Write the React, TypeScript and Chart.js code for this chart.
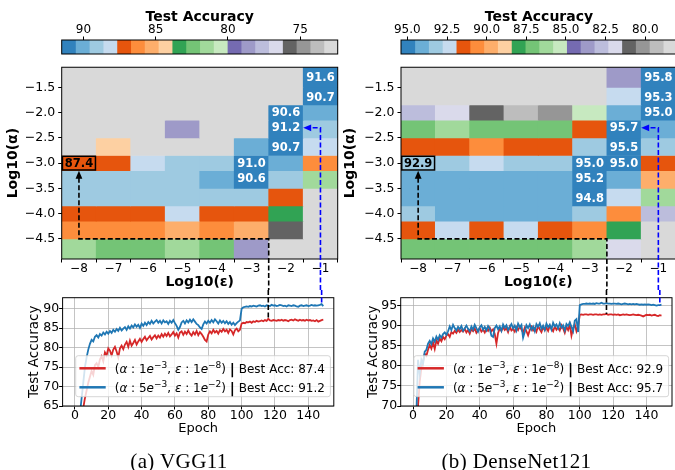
import React, { useEffect, useRef } from 'react';
import { Chart, registerables } from 'chart.js';

Chart.register(...registerables);

const FONT = "'DejaVu Sans', sans-serif";
const MINUS = '\u2212';
Chart.defaults.font.family = FONT;
Chart.defaults.font.size = 12;
Chart.defaults.color = '#000';

// tab20c colormap (20 discrete colours, high accuracy first)
const TAB20C = [
  '#3182bd', '#6baed6', '#9ecae1', '#c6dbef',
  '#e6550d', '#fd8d3c', '#fdae6b', '#fdd0a2',
  '#31a354', '#74c476', '#a1d99b', '#c7e9c0',
  '#756bb1', '#9e9ac8', '#bcbddc', '#dadaeb',
  '#636363', '#969696', '#bdbdbd', '#d9d9d9',
];

// ---- heatmap axes ----
const ALPHAS = [5e-2, 2e-2, 1e-2, 5e-3, 2e-3, 1e-3, 5e-4, 2e-4, 1e-4, 5e-5, 2e-5];
const EPS_EXPS = [-8, -7, -6, -5, -4, -3, -2, -1];
const ALPHA_TICKS = [-1.5, -2.0, -2.5, -3.0, -3.5, -4.0, -4.5];

// ---- heatmap values (rows: alpha top->bottom, cols: log10 eps -8..-1); 10.0 = diverged ----
const VGG_GRID = [
  [10.0, 10.0, 10.0, 10.0, 10.0, 10.0, 10.0, 91.6],
  [10.0, 10.0, 10.0, 10.0, 10.0, 10.0, 10.0, 90.7],
  [10.0, 10.0, 10.0, 10.0, 10.0, 10.0, 90.6, 90.1],
  [10.0, 10.0, 10.0, 78.6, 10.0, 10.0, 91.2, 89.1],
  [10.0, 84.3, 10.0, 10.0, 10.0, 90.1, 90.7, 88.2],
  [87.4, 87.2, 88.2, 89.1, 89.1, 91.0, 90.1, 86.2],
  [89.1, 89.1, 89.1, 89.1, 90.1, 90.6, 89.1, 81.5],
  [89.1, 89.1, 89.1, 89.1, 89.1, 89.1, 87.2, 10.0],
  [87.2, 87.2, 87.2, 88.2, 87.2, 87.2, 83.4, 10.0],
  [86.2, 86.2, 86.2, 85.3, 86.2, 85.3, 75.8, 10.0],
  [81.5, 82.4, 82.4, 81.5, 82.4, 78.6, 10.0, 10.0],
];
const DENSE_GRID = [
  [10.0, 10.0, 10.0, 10.0, 10.0, 10.0, 83.7, 95.8],
  [10.0, 10.0, 10.0, 10.0, 10.0, 10.0, 92.4, 95.3],
  [82.8, 81.9, 81.1, 79.3, 80.2, 85.4, 94.1, 95.0],
  [87.1, 86.3, 87.1, 87.1, 87.1, 91.5, 95.7, 94.1],
  [91.5, 91.5, 90.6, 91.5, 91.5, 93.2, 95.5, 93.2],
  [92.9, 93.2, 92.4, 93.2, 93.2, 95.0, 95.0, 91.5],
  [94.1, 94.1, 94.1, 94.1, 94.1, 95.2, 94.1, 89.7],
  [94.1, 94.1, 94.1, 94.1, 94.1, 94.8, 92.4, 86.3],
  [93.2, 94.1, 94.1, 94.1, 94.1, 93.2, 90.6, 82.8],
  [91.5, 92.4, 91.5, 92.4, 91.5, 90.6, 88.0, 10.0],
  [87.1, 87.1, 87.1, 87.1, 87.1, 86.3, 81.9, 10.0],
];

// ---- colour bars ----
const VGG_CBAR_RANGE = [72.4, 91.5];
const VGG_CBAR_TICKS = [90, 85, 80, 75];
const DENSE_CBAR_RANGE = [78.0, 95.4];
const DENSE_CBAR_TICKS = [95, 92.5, 90, 87.5, 85, 82.5, 80];

// ---- runs: [mantissa, exponent] ----
const RUN_ALPHA = [[1, -3], [5, -3]];
const RUN_EPS = [[1, -8], [1, -2]];
const MARK_EPOCHS = [116, 148];
const RUN_COLORS = ['#d62728', '#1f77b4'];

// ---- training curves ----
const EPOCH_TICKS = [0, 20, 40, 60, 80, 100, 120, 140];
const VGG_ACC_TICKS = [65, 70, 75, 80, 85, 90];
const DENSE_ACC_TICKS = [70, 75, 80, 85, 90, 95];

const VGG_RED = [
  30.0, 45.0, 52.0, 58.0, 62.0, 64.5, 67.0, 69.0, 71.0, 72.5,
  74.0, 73.0, 75.5, 76.0, 75.0, 77.0, 77.8, 76.5, 78.8, 78.0,
  79.8, 79.2, 78.0, 79.5, 80.2, 79.0, 77.5, 79.8, 80.5, 79.6,
  80.8, 81.5, 80.2, 81.8, 80.5, 81.2, 82.0, 80.8, 81.6, 82.3,
  81.5, 82.2, 82.8, 81.9, 82.5, 83.0, 82.1, 82.7, 83.2, 82.4,
  83.1, 82.6, 83.5, 82.8, 83.6, 83.0, 83.8, 82.9, 83.4, 84.0,
  83.1, 83.7, 82.6, 83.9, 84.2, 83.3, 84.1, 83.5, 84.4, 83.6,
  83.1, 84.0, 83.4, 84.3, 83.2, 84.0, 83.5, 82.8, 82.0, 81.6,
  83.4, 84.2, 83.7, 84.6, 83.9, 84.3, 83.6, 84.5, 84.1, 84.8,
  84.2, 84.6, 83.8, 84.7, 84.3, 83.4, 84.5, 84.9, 84.2, 84.6,
  86.2, 86.4, 86.3, 86.6, 86.5, 86.7, 86.4, 86.8, 86.6, 86.9,
  86.7, 86.8, 87.0, 86.8, 87.1, 86.9, 87.4, 87.0, 86.9, 87.1,
  87.0, 86.9, 87.1, 87.0, 87.2, 86.9, 87.1, 87.0, 86.8, 87.1,
  87.2, 87.0, 87.3, 87.1, 86.9, 87.2, 87.0, 87.1, 86.9, 87.2,
  87.0, 87.1, 86.9, 87.0, 86.8, 87.1, 86.7, 86.9, 87.1, 87.2,
];
const VGG_BLUE = [
  35.0, 50.0, 58.0, 63.0, 67.0, 71.0, 75.0, 77.5, 79.5, 81.0,
  82.0, 81.6, 82.8, 83.2, 82.6, 83.5, 83.1, 83.9, 83.4, 84.1,
  83.6, 84.3, 83.8, 84.6, 84.1, 84.8, 84.3, 85.1, 84.4, 84.9,
  85.3, 84.6, 85.5, 84.9, 85.7, 85.2, 86.0, 85.4, 85.9, 85.1,
  86.2, 85.6, 86.4, 85.8, 86.6, 86.1, 86.9, 86.2, 86.7, 87.1,
  86.4, 86.9, 86.2, 87.0, 86.5, 86.8, 86.1, 86.9, 86.4, 87.1,
  86.3, 85.6, 84.6, 85.3, 86.5, 86.9, 86.2, 87.0, 86.5, 87.2,
  86.6, 87.3, 86.7, 86.1, 85.8, 85.2, 84.8, 86.0, 86.7, 86.2,
  86.9, 86.4, 87.1, 86.5, 87.3, 86.8, 86.2, 87.0, 86.4, 86.9,
  86.3, 86.8, 86.1, 86.6, 85.9, 86.4, 85.8, 86.3, 86.7, 87.0,
  90.0, 90.4, 90.5, 90.6, 90.5, 90.7, 90.6, 90.8, 90.7, 90.6,
  90.8, 90.9, 90.7, 90.8, 90.6, 90.9, 90.8, 90.7, 91.0, 90.8,
  90.9, 90.7, 90.8, 91.0, 90.9, 90.7, 90.8, 90.6, 90.9, 90.8,
  90.7, 90.9, 90.8, 90.6, 90.5, 90.8, 90.9, 90.7, 90.8, 90.9,
  90.7, 90.8, 91.0, 90.8, 90.9, 90.8, 90.9, 91.0, 91.2, 90.7,
];
const DENSE_RED = [
  20.0, 40.0, 62.0, 70.0, 76.0, 79.5, 81.0, 83.0, 82.5, 84.0,
  85.2, 84.3, 85.8, 84.2, 86.3, 85.5, 86.8, 86.1, 87.2, 86.6,
  87.5, 87.9, 87.2, 88.4, 88.0, 88.7, 88.2, 89.0, 88.4, 88.9,
  88.5, 89.2, 88.3, 88.9, 88.0, 89.1, 88.6, 89.3, 88.2, 88.8,
  89.4, 88.5, 89.0, 88.3, 89.2, 88.7, 89.5, 88.6, 89.1, 87.9,
  85.5, 88.2, 89.3, 88.7, 89.6, 88.9, 89.4, 88.4, 89.7, 88.8,
  89.2, 88.5, 89.6, 88.9, 89.8, 89.0, 88.3, 89.5, 88.6, 87.6,
  88.9, 89.7, 88.8, 89.4, 88.5, 89.9, 89.1, 88.4, 89.6, 88.9,
  89.5, 88.7, 90.0, 89.2, 88.6, 89.8, 89.0, 89.6, 88.8, 90.1,
  89.3, 88.2, 89.7, 88.9, 90.2, 87.5, 89.4, 90.3, 88.6, 89.9,
  92.7, 92.8, 92.7, 92.8, 92.8, 92.7, 92.8, 92.8, 92.7, 92.8,
  92.8, 92.7, 92.8, 92.7, 92.8, 92.8, 92.9, 92.7, 92.8, 92.8,
  92.7, 92.8, 92.7, 92.8, 92.6, 92.7, 92.8, 92.7, 92.8, 92.7,
  92.6, 92.7, 92.8, 92.7, 92.6, 92.7, 92.6, 92.5, 92.3, 92.5,
  92.7, 92.6, 92.7, 92.5, 92.6, 92.7, 92.5, 92.4, 92.6, 92.5,
];
const DENSE_BLUE = [
  25.0, 50.0, 68.0, 81.5, 78.0, 81.5, 80.5, 83.5, 84.0, 85.5,
  86.2, 85.4, 86.8, 86.0, 87.3, 86.5, 87.6, 87.0, 87.9, 88.3,
  87.7, 88.6, 89.8, 88.9, 90.2, 89.4, 88.8, 89.7, 89.1, 89.9,
  88.7, 89.3, 90.0, 89.2, 88.6, 89.8, 89.0, 90.2, 89.4, 88.5,
  89.6, 90.1, 89.0, 89.7, 88.8, 89.9, 89.2, 87.5, 87.2, 89.4,
  90.0, 89.1, 89.8, 88.7, 90.3, 89.5, 90.1, 88.9, 89.7, 90.4,
  89.3, 90.0, 88.8, 90.5, 89.6, 90.2, 87.0, 88.4, 90.1, 89.4,
  90.3, 89.0, 89.8, 88.6, 90.4, 89.7, 90.6, 89.2, 90.0, 88.9,
  90.5, 89.6, 90.2, 89.0, 90.7, 89.8, 90.3, 89.3, 90.6, 89.5,
  90.1, 88.8, 90.4, 89.9, 90.8, 89.7, 88.6, 91.2, 91.6, 88.4,
  95.1, 95.3, 95.4, 95.4, 95.5, 95.4, 95.5, 95.4, 95.5, 95.4,
  95.6, 95.5, 95.5, 95.7, 95.5, 95.5, 95.6, 95.5, 95.5, 95.4,
  95.5, 95.5, 95.4, 95.5, 95.4, 95.3, 95.4, 95.5, 95.4, 95.3,
  95.4, 95.3, 95.4, 95.3, 95.4, 95.3, 95.2, 95.3, 95.2, 95.3,
  95.2, 95.3, 95.2, 95.1, 95.2, 95.1, 95.0, 95.1, 95.1, 95.2,
];

// ---------------- helpers ----------------
const fmt = (v: number, dec: number) => v.toFixed(dec).replace('-', MINUS);
const fixedTicks = (values: number[]) => (scale: any) => {
  scale.ticks = values.map((v) => ({ value: v }));
};
const binIndex = (v: number, range: number[]) => {
  const [vmin, vmax] = range;
  const w = (vmax - vmin) / TAB20C.length;
  return Math.max(0, Math.min(TAB20C.length - 1, Math.floor((vmax - v) / w)));
};
const ROW_CENTERS = ALPHAS.map((a) => Math.log10(a));
const ROW_EDGES = ROW_CENTERS.map((c, i, arr) => {
  const up = i === 0 ? c + (c - arr[1]) / 2 : (arr[i - 1] + c) / 2;
  const lo = i === arr.length - 1 ? c - (arr[i - 1] - c) / 2 : (c + arr[i + 1]) / 2;
  return [lo, up];
});

const framePlugin = {
  id: 'frame',
  afterDatasetsDraw(chart: any) {
    const { ctx, chartArea: a } = chart;
    ctx.save();
    ctx.strokeStyle = '#000';
    ctx.lineWidth = 1;
    ctx.setLineDash([]);
    ctx.strokeRect(a.left, a.top, a.right - a.left, a.bottom - a.top);
    ctx.restore();
  },
};

function arrowHead(ctx: CanvasRenderingContext2D, tx: number, ty: number, dx: number, dy: number, color: string) {
  const L = 8, W = 3.4;
  const bx = tx - dx * L, by = ty - dy * L;
  const px = -dy, py = dx;
  ctx.save();
  ctx.setLineDash([]);
  ctx.beginPath();
  ctx.moveTo(tx, ty);
  ctx.lineTo(bx + px * W, by + py * W);
  ctx.lineTo(bx - px * W, by - py * W);
  ctx.closePath();
  ctx.fillStyle = color;
  ctx.fill();
  ctx.restore();
}

const axisGrid = { drawOnChartArea: false, drawTicks: true, tickLength: 3.5, color: '#000', lineWidth: 1 };

function makeColorbar(canvas: HTMLCanvasElement, range: number[], ticks: number[], dec: number, padL: number, padR: number) {
  const [vmin, vmax] = range;
  const w = (vmax - vmin) / TAB20C.length;
  const datasets = TAB20C.map((col, i) => ({
    data: [[vmax - (i + 1) * w, vmax - i * w]],
    backgroundColor: col,
    borderWidth: 0,
    grouped: false,
    barPercentage: 1,
    categoryPercentage: 1,
  }));
  return new Chart(canvas, {
    type: 'bar',
    data: { labels: ['cbar'], datasets } as any,
    options: {
      indexAxis: 'y',
      responsive: false,
      animation: false,
      events: [],
      layout: { padding: { left: padL, right: padR, top: 0, bottom: 2 } },
      plugins: { legend: { display: false }, tooltip: { enabled: false } },
      scales: {
        x: {
          type: 'linear', position: 'top', reverse: true, min: vmin, max: vmax,
          afterBuildTicks: fixedTicks(ticks),
          afterFit: (s: any) => { s.height = 40; },
          grid: axisGrid,
          border: { display: false },
          ticks: { font: { size: 12, lineHeight: 1 }, color: '#000', padding: 0.5, maxRotation: 0, autoSkip: false, callback: (v: any) => fmt(Number(v), dec) },
          title: { display: true, text: 'Test Accuracy', color: '#000', font: { size: 14, weight: 'bold', lineHeight: 1 }, padding: { top: 10.5, bottom: 0 } },
        },
        y: { type: 'category', display: false },
      },
    } as any,
    plugins: [framePlugin],
  });
}

function makeHeatmap(canvas: HTMLCanvasElement, grid: number[][], range: number[], yAxisW: number, padR: number, titlePad: number) {
  const datasets = grid.map((row, r) => ({
    data: row.map((v, c) => ({ x: EPS_EXPS[c], y: ROW_EDGES[r] })),
    backgroundColor: row.map((v) => TAB20C[binIndex(v, range)]),
    borderWidth: 0,
    grouped: false,
    barPercentage: 1,
    categoryPercentage: 1,
  }));
  const baseR = ALPHAS.indexOf(RUN_ALPHA[0][0] * Math.pow(10, RUN_ALPHA[0][1]));
  const baseC = EPS_EXPS.indexOf(RUN_EPS[0][1]);
  const bestAlpha = RUN_ALPHA[1][0] * Math.pow(10, RUN_ALPHA[1][1]);
  const bestR = ALPHAS.findIndex((a) => Math.abs(a - bestAlpha) < 1e-9);
  const bestC = EPS_EXPS.indexOf(RUN_EPS[1][1]);
  const ROUTE_Y = -4.5, ROUTE_X = -2.5, BLUE_X = -1;

  const heatPlugin = {
    id: 'heatDecor',
    afterDatasetsDraw(chart: any) {
      const { ctx } = chart;
      const xs = chart.scales.x, ys = chart.scales.y;
      ctx.save();
      ctx.textAlign = 'center';
      ctx.textBaseline = 'middle';
      ctx.font = `bold 11.5px ${FONT}`;
      grid.forEach((row, r) => row.forEach((v, c) => {
        const isBase = r === baseR && c === baseC;
        if (!isBase && binIndex(v, range) !== 0) return;
        const x = xs.getPixelForValue(EPS_EXPS[c]);
        const y = ys.getPixelForValue(ROW_CENTERS[r]);
        if (isBase) {
          const x0 = xs.getPixelForValue(EPS_EXPS[c] - 0.5), x1 = xs.getPixelForValue(EPS_EXPS[c] + 0.5);
          const y0 = ys.getPixelForValue(ROW_EDGES[r][1]), y1 = ys.getPixelForValue(ROW_EDGES[r][0]);
          ctx.lineWidth = 1.5;
          ctx.strokeStyle = '#000';
          ctx.strokeRect(x0 + 0.75, y0 + 0.75, x1 - x0 - 1.5, y1 - y0 - 1.5);
          ctx.fillStyle = '#000';
        } else {
          ctx.fillStyle = '#fff';
        }
        ctx.fillText(v.toFixed(1), x, y + 0.5);
      }));
      // frame
      const a = chart.chartArea;
      ctx.lineWidth = 1;
      ctx.strokeStyle = '#000';
      ctx.strokeRect(a.left, a.top, a.right - a.left, a.bottom - a.top);
      // dashed routes
      ctx.setLineDash([5, 2.5]);
      ctx.lineWidth = 1.6;
      ctx.strokeStyle = '#000';
      const bx = xs.getPixelForValue(EPS_EXPS[baseC]);
      const by = ys.getPixelForValue(ROUTE_Y);
      const tipY = ys.getPixelForValue(ROW_EDGES[baseR][0]);
      const rx = xs.getPixelForValue(ROUTE_X);
      ctx.beginPath();
      ctx.moveTo(bx, tipY + 7);
      ctx.lineTo(bx, by);
      ctx.lineTo(rx, by);
      ctx.lineTo(rx, chart.height);
      ctx.stroke();
      arrowHead(ctx, bx, tipY, 0, -1, '#000');
      ctx.strokeStyle = 'blue';
      const lx = xs.getPixelForValue(BLUE_X);
      const ly = ys.getPixelForValue(ROW_CENTERS[bestR]);
      const tipX = xs.getPixelForValue(EPS_EXPS[bestC] + 0.5);
      ctx.beginPath();
      ctx.moveTo(lx, chart.height);
      ctx.lineTo(lx, ly);
      ctx.lineTo(tipX + 7, ly);
      ctx.stroke();
      arrowHead(ctx, tipX, ly, -1, 0, 'blue');
      ctx.restore();
    },
  };

  return new Chart(canvas, {
    type: 'bar',
    data: { datasets } as any,
    options: {
      responsive: false,
      animation: false,
      events: [],
      layout: { padding: { left: 0, right: padR, top: 3.7, bottom: 0 } },
      plugins: { legend: { display: false }, tooltip: { enabled: false } },
      scales: {
        x: {
          type: 'linear', min: EPS_EXPS[0] - 0.5, max: EPS_EXPS[EPS_EXPS.length - 1] + 0.5, offset: false,
          afterBuildTicks: fixedTicks(EPS_EXPS),
          afterFit: (s: any) => { s.height = 31; },
          grid: axisGrid,
          border: { display: false },
          ticks: { font: { size: 12, lineHeight: 1 }, color: '#000', padding: 0, maxRotation: 0, autoSkip: false, callback: (v: any) => fmt(Number(v), 0) },
          title: { display: true, text: 'Log10(ε)', color: '#000', font: { size: 14, weight: 'bold', lineHeight: 1 }, padding: { top: 0, bottom: 1 } },
        },
        y: {
          type: 'linear', min: ROW_EDGES[ROW_EDGES.length - 1][0], max: ROW_EDGES[0][1],
          afterBuildTicks: fixedTicks(ALPHA_TICKS),
          afterFit: (s: any) => { s.width = yAxisW; },
          grid: axisGrid,
          border: { display: false },
          ticks: { font: { size: 12.5, lineHeight: 1 }, color: '#000', padding: 3, autoSkip: false, callback: (v: any) => fmt(Number(v), 1) },
          title: { display: true, text: 'Log10(α)', color: '#000', font: { size: 14, weight: 'bold', lineHeight: 1 }, padding: { top: titlePad, bottom: 0 } },
        },
      },
    } as any,
    plugins: [heatPlugin],
  });
}

type Seg = { t: string; k: string };
function legendSegs(run: number, best: number): Seg[] {
  const [am, ae] = RUN_ALPHA[run];
  const [em, ee] = RUN_EPS[run];
  return [
    { t: '(', k: 'n' }, { t: 'α', k: 'i' }, { t: ' : ', k: 'n' }, { t: String(am), k: 'n' }, { t: 'e', k: 'i' }, { t: fmt(ae, 0), k: 's' },
    { t: ', ', k: 'n' }, { t: 'ε', k: 'i' }, { t: ' : ', k: 'n' }, { t: String(em), k: 'n' }, { t: 'e', k: 'i' }, { t: fmt(ee, 0), k: 's' },
    { t: ') ', k: 'n' }, { t: '|', k: 'b' }, { t: ' Best Acc: ' + best.toFixed(1), k: 'n' },
  ];
}
const segFont = (k: string) =>
  k === 'i' ? `italic 12px ${FONT}` : k === 'b' ? `bold 14px ${FONT}` : k === 's' ? `9px ${FONT}` : `12px ${FONT}`;

function makeLine(canvas: HTMLCanvasElement, series: number[][], yRange: number[], yTicks: number[], yAxisW: number, padR: number, titlePad: number) {
  const best = series.map((s) => Math.max(...s));
  const linePlugin = {
    id: 'lineDecor',
    afterDatasetsDraw(chart: any) {
      const { ctx } = chart;
      const a = chart.chartArea;
      const xs = chart.scales.x, ys = chart.scales.y;
      ctx.save();
      ctx.strokeStyle = '#000';
      ctx.lineWidth = 1;
      ctx.strokeRect(a.left, a.top, a.right - a.left, a.bottom - a.top);
      ctx.setLineDash([5, 2.5]);
      ctx.lineWidth = 1.6;
      MARK_EPOCHS.forEach((ep, i) => {
        const x = xs.getPixelForValue(ep);
        const y = ys.getPixelForValue(series[i][ep]);
        ctx.strokeStyle = i === 0 ? '#000' : 'blue';
        ctx.beginPath();
        ctx.moveTo(x, 0);
        ctx.lineTo(x, y);
        ctx.stroke();
      });
      ctx.restore();
    },
    afterDraw(chart: any) {
      const { ctx } = chart;
      const a = chart.chartArea;
      ctx.save();
      const segsList = series.map((s, i) => legendSegs(i, best[i]));
      const widths = segsList.map((segs) => segs.reduce((sum, g) => { ctx.font = segFont(g.k); return sum + ctx.measureText(g.t).width; }, 0));
      const textW = Math.max(...widths);
      const boxW = 39 + textW + 5.5, boxH = 41;
      const right = a.right - 3.4, bottom = a.bottom - 9.3;
      const left = right - boxW, top = bottom - boxH;
      ctx.beginPath();
      ctx.roundRect(left, top, boxW, boxH, 2.5);
      ctx.fillStyle = 'rgba(255,255,255,0.8)';
      ctx.fill();
      ctx.strokeStyle = 'rgba(204,204,204,0.8)';
      ctx.lineWidth = 1;
      ctx.stroke();
      segsList.forEach((segs, i) => {
        const cy = top + 12.6 + i * 19;
        ctx.strokeStyle = RUN_COLORS[i];
        ctx.lineWidth = 2.5;
        ctx.beginPath();
        ctx.moveTo(left + 3.7, cy);
        ctx.lineTo(left + 30, cy);
        ctx.stroke();
        let x = left + 39;
        const base = cy + 4.4;
        ctx.fillStyle = '#000';
        ctx.textBaseline = 'alphabetic';
        ctx.textAlign = 'left';
        segs.forEach((g) => {
          ctx.font = segFont(g.k);
          ctx.fillText(g.t, x, g.k === 's' ? base - 5 : g.k === 'b' ? base + 1 : base);
          x += ctx.measureText(g.t).width;
        });
      });
      ctx.restore();
    },
  };
  const labels = ['red', 'blue'];
  return new Chart(canvas, {
    type: 'line',
    data: {
      datasets: series.map((s, i) => ({
        label: labels[i],
        data: s.map((v, ep) => ({ x: ep, y: v })),
        borderColor: RUN_COLORS[i],
        borderWidth: 1.8,
        pointRadius: 0,
        fill: false,
        tension: 0,
        order: 2 - i,
      })),
    },
    options: {
      responsive: false,
      animation: false,
      events: [],
      layout: { padding: { left: 0, right: padR, top: 7.7, bottom: 34 } },
      plugins: { legend: { display: false }, tooltip: { enabled: false } },
      scales: {
        x: {
          type: 'linear', min: -7.4, max: 155.3,
          afterBuildTicks: fixedTicks(EPOCH_TICKS),
          afterFit: (s: any) => { s.height = 30; },
          grid: { drawOnChartArea: true, drawTicks: true, tickLength: 3.5, color: 'rgba(176,176,176,0.75)', tickColor: '#000', lineWidth: 1 },
          border: { display: false },
          ticks: { font: { size: 12.5, lineHeight: 1 }, color: '#000', padding: -0.5, maxRotation: 0, autoSkip: false },
          title: { display: true, text: 'Epoch', color: '#000', font: { size: 13, lineHeight: 1 }, padding: { top: 0, bottom: 0.5 } },
        },
        y: {
          type: 'linear', min: yRange[0], max: yRange[1],
          afterBuildTicks: fixedTicks(yTicks),
          afterFit: (s: any) => { s.width = yAxisW; },
          grid: { drawOnChartArea: true, drawTicks: true, tickLength: 3.5, color: 'rgba(176,176,176,0.75)', tickColor: '#000', lineWidth: 1 },
          border: { display: false },
          ticks: { font: { size: 12.5, lineHeight: 1 }, color: '#000', padding: 0, autoSkip: false },
          title: { display: true, text: 'Test Accuracy', color: '#000', font: { size: 13.5, lineHeight: 1 }, padding: { top: titlePad, bottom: 0 } },
        },
      },
    } as any,
    plugins: [linePlugin],
  });
}

const cv = (left: number, top: number, width: number, height: number): React.CSSProperties => ({
  position: 'absolute', left, top, width, height,
});

export default function App() {
  const c1 = useRef<HTMLCanvasElement>(null);
  const c2 = useRef<HTMLCanvasElement>(null);
  const c3 = useRef<HTMLCanvasElement>(null);
  const c4 = useRef<HTMLCanvasElement>(null);
  const c5 = useRef<HTMLCanvasElement>(null);
  const c6 = useRef<HTMLCanvasElement>(null);

  useEffect(() => {
    const charts = [
      makeColorbar(c1.current!, VGG_CBAR_RANGE, VGG_CBAR_TICKS, 0, 61.7, 7.3),
      makeHeatmap(c2.current!, VGG_GRID, VGG_CBAR_RANGE, 61.7, 7.3, 6),
      makeLine(c3.current!, [VGG_RED, VGG_BLUE], [65, 92.85], VGG_ACC_TICKS, 62.6, 11.2, 28.2),
      makeColorbar(c4.current!, DENSE_CBAR_RANGE, DENSE_CBAR_TICKS, 1, 63, 3),
      makeHeatmap(c5.current!, DENSE_GRID, DENSE_CBAR_RANGE, 63, 4.5, 5),
      makeLine(c6.current!, [DENSE_RED, DENSE_BLUE], [70, 96.95], DENSE_ACC_TICKS, 62.7, 8, 28.4),
    ];
    return () => charts.forEach((c) => c.destroy());
  }, []);

  const caption: React.CSSProperties = {
    position: 'absolute', top: 448, height: 26, lineHeight: '26px', textAlign: 'center',
    fontFamily: "'Liberation Serif', serif", fontSize: 21, letterSpacing: 0.4, color: '#000', whiteSpace: 'nowrap',
  };

  return (
    <div style={{ position: 'absolute', left: 0, top: 0, width: 675, height: 470, overflow: 'hidden', background: '#fff' }}>
      <canvas ref={c1} width={345} height={56} style={cv(0, 0, 345, 56)} />
      <canvas ref={c2} width={345} height={232} style={cv(0, 58, 345, 232)} />
      <canvas ref={c3} width={345} height={180} style={cv(0, 290, 345, 180)} />
      <canvas ref={c4} width={342} height={56} style={cv(338, 0, 342, 56)} />
      <canvas ref={c5} width={342} height={232} style={cv(338, 58, 342, 232)} />
      <canvas ref={c6} width={342} height={180} style={cv(338, 290, 342, 180)} />
      <div style={{ ...caption, left: 0, width: 358 }}>(a) VGG11</div>
      <div style={{ ...caption, left: 338, width: 357 }}>(b) DenseNet121</div>
    </div>
  );
}
